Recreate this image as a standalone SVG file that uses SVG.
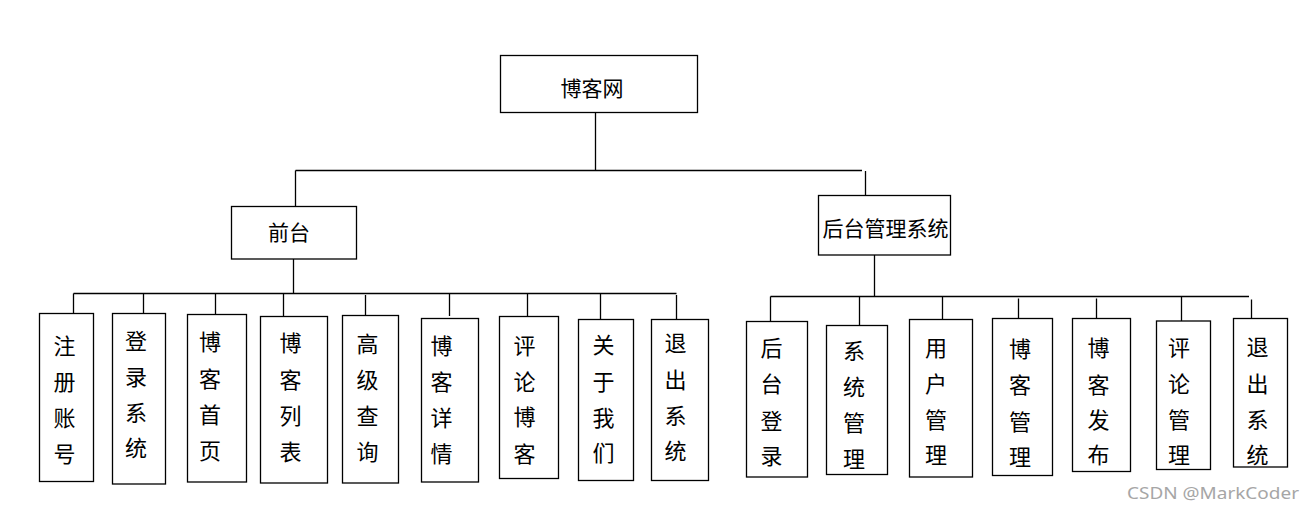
<svg xmlns="http://www.w3.org/2000/svg" width="1315" height="511" viewBox="0 0 1315 511">
<style>
.b{fill:#fff;stroke:#000;stroke-width:1.3}
.c{stroke:#000;stroke-width:1.3;fill:none}
.t{font-family:"Noto Sans CJK SC","Noto Sans",sans-serif;font-size:21px;fill:#000;text-anchor:middle;dominant-baseline:central;transform:translateY(-2.5px)}
.v{font-family:"Noto Sans CJK SC","Noto Sans",sans-serif;font-size:22px;fill:#000;text-anchor:middle;dominant-baseline:central;transform:translateY(-2.5px)}
.w{font-family:"Noto Sans","Liberation Sans",sans-serif;font-size:17px;fill:#a6a6a6}
</style>
<rect width="1315" height="511" fill="#fff"/>
<g id="connectors">
<path class="c" d="M595.5,112.5V170.5M295.5,170.5H862M865.5,171V195.5M295.5,170.5V206.5"/>
<path class="c" d="M293.5,259V293.5M73.5,293.5H676.5M73.5,293.5V313.5M143.5,293.5V315M215.5,293.5V316M283.5,293.5V316M365.5,295V315M449.5,293.5V316M527.5,293.5V316.5M600.5,293.5V319M676.5,295V319"/>
<path class="c" d="M874.5,255V296.5M770.5,296.5H1249M770.5,296.5V321.5M859.5,296.5V325M942.5,296.5V319.5M1018.5,298.5V318.5M1096.5,298.5V318.5M1181.5,296.5V321M1251.5,299.5V318.5"/>
</g>
<g id="n-root"><rect class="b" x="500.5" y="55.5" width="197" height="57"/><text class="t" x="592" y="89">博客网</text></g>
<g id="n-front"><rect class="b" x="231.5" y="206.5" width="125" height="52.5"/><text class="t" x="289" y="233">前台</text></g>
<g id="n-back"><rect class="b" x="818.5" y="195.5" width="132" height="59.5"/><text class="t" x="885.5" y="229">后台管理系统</text></g>

<g id="n1"><rect class="b" x="39.5" y="313.5" width="54" height="168"/><text class="v"><tspan x="64.5" y="346">注</tspan><tspan x="64.5" y="382.5">册</tspan><tspan x="64.5" y="418.5">账</tspan><tspan x="64.5" y="454">号</tspan></text></g>
<g id="n2"><rect class="b" x="112.5" y="313.5" width="53" height="170.5"/><text class="v"><tspan x="136" y="341">登</tspan><tspan x="136" y="377">录</tspan><tspan x="136" y="413">系</tspan><tspan x="136" y="448.5">统</tspan></text></g>
<g id="n3"><rect class="b" x="187.5" y="314.5" width="59" height="167.5"/><text class="v"><tspan x="210" y="342">博</tspan><tspan x="210" y="379">客</tspan><tspan x="210" y="415.5">首</tspan><tspan x="210" y="451">页</tspan></text></g>
<g id="n4"><rect class="b" x="260.5" y="316.5" width="67" height="166.5"/><text class="v"><tspan x="290.5" y="343.5">博</tspan><tspan x="290.5" y="380.5">客</tspan><tspan x="290.5" y="416.5">列</tspan><tspan x="290.5" y="452.5">表</tspan></text></g>
<g id="n5"><rect class="b" x="342.5" y="315.5" width="56" height="167.5"/><text class="v"><tspan x="367.5" y="344.5">高</tspan><tspan x="367.5" y="380">级</tspan><tspan x="367.5" y="416.5">查</tspan><tspan x="367.5" y="452.5">询</tspan></text></g>
<g id="n6"><rect class="b" x="421.5" y="318.5" width="57" height="163.5"/><text class="v"><tspan x="441.5" y="346">博</tspan><tspan x="441.5" y="382.5">客</tspan><tspan x="441.5" y="418.5">详</tspan><tspan x="441.5" y="454">情</tspan></text></g>
<g id="n7"><rect class="b" x="499.5" y="316.5" width="59" height="162"/><text class="v"><tspan x="524.5" y="346">评</tspan><tspan x="524.5" y="382.5">论</tspan><tspan x="524.5" y="417">博</tspan><tspan x="524.5" y="454">客</tspan></text></g>
<g id="n8"><rect class="b" x="578.5" y="319.5" width="55" height="161"/><text class="v"><tspan x="603.5" y="345">关</tspan><tspan x="603.5" y="382.5">于</tspan><tspan x="603.5" y="418">我</tspan><tspan x="603.5" y="453.5">们</tspan></text></g>
<g id="n9"><rect class="b" x="651.5" y="319.5" width="57" height="161"/><text class="v"><tspan x="675.5" y="343.5">退</tspan><tspan x="675.5" y="380.5">出</tspan><tspan x="675.5" y="416.5">系</tspan><tspan x="675.5" y="451">统</tspan></text></g>

<g id="m1"><rect class="b" x="746.5" y="321.5" width="61" height="155.5"/><text class="v"><tspan x="771.5" y="348.5">后</tspan><tspan x="771.5" y="384">台</tspan><tspan x="771.5" y="421.5">登</tspan><tspan x="771.5" y="456.5">录</tspan></text></g>
<g id="m2"><rect class="b" x="826.5" y="325.5" width="61" height="149"/><text class="v"><tspan x="854" y="351">系</tspan><tspan x="854" y="387.5">统</tspan><tspan x="854" y="423.5">管</tspan><tspan x="854" y="459">理</tspan></text></g>
<g id="m3"><rect class="b" x="909.5" y="319.5" width="63" height="157.5"/><text class="v"><tspan x="936" y="348.5">用</tspan><tspan x="936" y="384">户</tspan><tspan x="936" y="420">管</tspan><tspan x="936" y="455">理</tspan></text></g>
<g id="m4"><rect class="b" x="992.5" y="318.5" width="60" height="157"/><text class="v"><tspan x="1020" y="349">博</tspan><tspan x="1020" y="385.5">客</tspan><tspan x="1020" y="422.5">管</tspan><tspan x="1020" y="457.5">理</tspan></text></g>
<g id="m5"><rect class="b" x="1072.5" y="318.5" width="58" height="153"/><text class="v"><tspan x="1098.5" y="348.5">博</tspan><tspan x="1098.5" y="385">客</tspan><tspan x="1098.5" y="420">发</tspan><tspan x="1098.5" y="455.5">布</tspan></text></g>
<g id="m6"><rect class="b" x="1156.5" y="321" width="54" height="148.5"/><text class="v"><tspan x="1179" y="348">评</tspan><tspan x="1179" y="384">论</tspan><tspan x="1179" y="420">管</tspan><tspan x="1179" y="455">理</tspan></text></g>
<g id="m7"><rect class="b" x="1233.5" y="318.5" width="54" height="148.5"/><text class="v"><tspan x="1257.5" y="347">退</tspan><tspan x="1257.5" y="384">出</tspan><tspan x="1257.5" y="420">系</tspan><tspan x="1257.5" y="455">统</tspan></text></g>

<text class="w" x="1127" y="499" textLength="172" lengthAdjust="spacingAndGlyphs">CSDN @MarkCoder</text>
</svg>
